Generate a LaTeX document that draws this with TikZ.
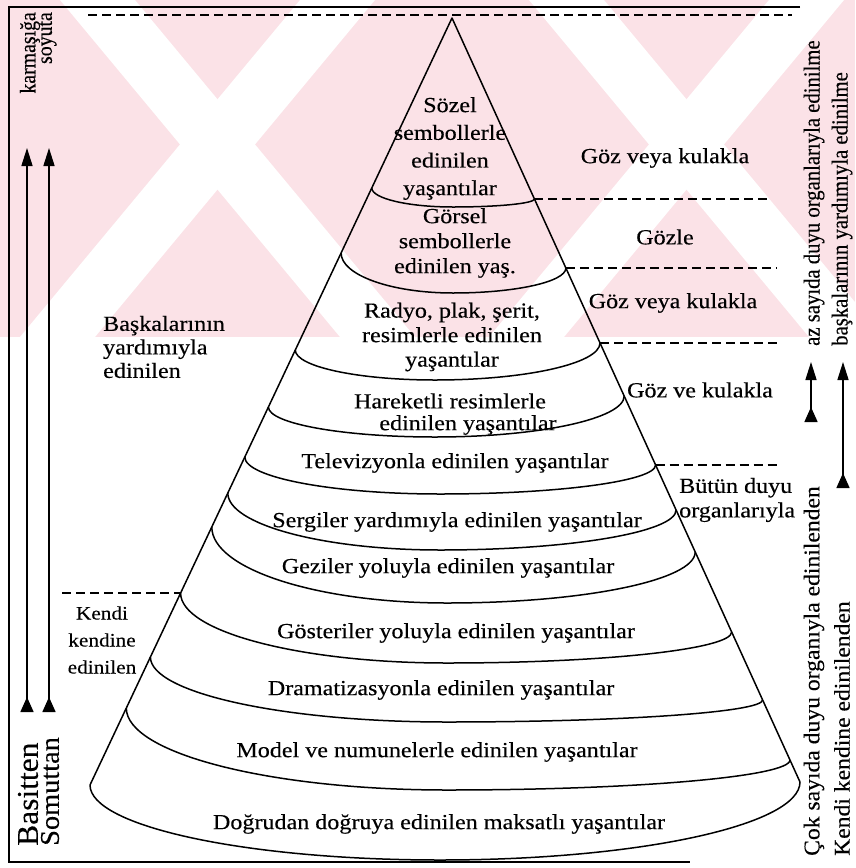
\documentclass[tikz,border=0pt]{standalone}
\usepackage{fontspec}
\setmainfont{Liberation Serif}[FakeStretch=1.12,FakeBold=0.3]
\newfontfamily\vfont{Liberation Serif}[FakeStretch=0.9,FakeBold=0.3]
\newfontfamily\wfont{Liberation Serif}[FakeStretch=1.05,FakeBold=0.3]
\usetikzlibrary{arrows.meta,calc}
\definecolor{wmpink}{RGB}{251,226,231}
\tikzset{
  cone/.style={line width=1.5pt, line join=round},
  frameline/.style={line width=1.6pt},
  dashline/.style={line width=1.2pt, dash pattern=on 9pt off 5pt},
  lbl/.style={inner sep=0pt, font=\fontsize{21.5}{24.5}\selectfont, align=center},
  vlbl/.style={inner sep=0pt, rotate=90},
  uparrow/.style={line width=1.5pt, {Triangle[reversed,length=15pt,width=13pt]}-{Triangle[length=18pt,width=11pt]}},
  wmband/.style={fill=white, draw=none},
}
\newcommand\layercurve[3]{\draw[cone] (#1) .. controls ($(#1)!0.552!(#1|-#2)$) and ($(#2)!0.552!(#1|-#2)$) .. (#2) .. controls ($(#2)!0.552!(#3|-#2)$) and ($(#3)!0.552!(#3|-#2)$) .. (#3);}
\begin{document}
\begin{tikzpicture}[x=1pt,y=-1pt]
\useasboundingbox (0,0) rectangle (855,868);
\fill[white] (0,0) rectangle (855,868);
% watermark
\begin{scope}
\clip (0,0) rectangle (855,337);
\fill[wmpink] (0,0) rectangle (855,337);
\fill[wmband] (60,0) -- (135,0) -- (415,337) -- (340,337) -- cycle;
\fill[wmband] (300,0) -- (375,0) -- (95,337) -- (20,337) -- cycle;
\fill[wmband] (844,0) -- (769,0) -- (489,337) -- (564,337) -- cycle;
\fill[wmband] (604,0) -- (529,0) -- (809,337) -- (884,337) -- cycle;
\end{scope}
% frame
\coordinate (f1) at (800,7); \coordinate (f2) at (9,7);
\coordinate (f3) at (9,862); \coordinate (f4) at (690,862);
\draw[frameline] (f1) -- (f2) -- (f3) -- (f4);
% cone sides
\coordinate (apex) at (452,18);
\coordinate (bl) at (90,785);
\coordinate (br) at (800,782);
\draw[cone] (bl) -- (apex) -- (br);
% layer boundaries
\coordinate (L1) at (371.8,188); \coordinate (C1) at (453,207); \coordinate (R1) at (534.4,199);
\coordinate (L2) at (341.1,253); \coordinate (C2) at (453,293); \coordinate (R2) at (565.9,268);
\coordinate (L3) at (295.3,350); \coordinate (C3) at (435,380); \coordinate (R3) at (600.0,343);
\coordinate (L4) at (268.4,407); \coordinate (C4) at (435,437); \coordinate (R4) at (624.2,396);
\coordinate (L5) at (244.8,457); \coordinate (C5) at (440,494); \coordinate (R5) at (655.6,465);
\coordinate (L6) at (227.8,493); \coordinate (C6) at (440,550); \coordinate (R6) at (676.1,510);
\coordinate (L7) at (211.8,527); \coordinate (C7) at (447,603); \coordinate (R7) at (695.2,552);
\coordinate (L8) at (180.6,593); \coordinate (C8) at (447,663); \coordinate (R8) at (731.7,632);
\coordinate (L9) at (150.4,657); \coordinate (C9) at (447,722); \coordinate (R9) at (762.6,700);
\coordinate (L10) at (126.3,708); \coordinate (C10) at (447,790); \coordinate (R10) at (790.0,760);
\coordinate (Cb) at (440,860);
\layercurve{L1}{C1}{R1}
\layercurve{L2}{C2}{R2}
\layercurve{L3}{C3}{R3}
\layercurve{L4}{C4}{R4}
\layercurve{L5}{C5}{R5}
\layercurve{L6}{C6}{R6}
\layercurve{L7}{C7}{R7}
\layercurve{L8}{C8}{R8}
\layercurve{L9}{C9}{R9}
\layercurve{L10}{C10}{R10}
\layercurve{bl}{Cb}{br}
% dashed lines
\coordinate (t1) at (88,15); \coordinate (t2) at (792,15);
\draw[dashline] (t1) -- (t2);
\coordinate (e1) at (772,199); \coordinate (e2) at (776,268);
\coordinate (e3) at (778,343); \coordinate (e5) at (780,465);
\draw[dashline] (R1) -- (e1);
\draw[dashline] (R2) -- (e2);
\draw[dashline] (R3) -- (e3);
\draw[dashline] (R5) -- (e5);
\coordinate (w8) at (62,593);
\draw[dashline] (w8) -- (L8);
% layer texts
\node[lbl, font=\fontsize{21.5}{27.7}\selectfont] (sozel) at (450,148.5) {Sözel\\sembollerle\\edinilen\\yaşantılar};
\node[lbl, font=\fontsize{21.5}{25}\selectfont] (gorsel) at (455,243) {Görsel\\sembollerle\\edinilen yaş.};
\node[lbl] (radyo) at (452,337) {Radyo, plak, şerit,\\resimlerle edinilen\\yaşantılar};
\node[lbl] (hareket1) at (450,401) {Hareketli resimlerle};
\node[lbl] (hareket2) at (468,425) {edinilen yaşantılar};
\node[lbl] (tv) at (455,463) {Televizyonla edinilen yaşantılar};
\node[lbl] (sergi) at (457,522) {Sergiler yardımıyla edinilen yaşantılar};
\node[lbl] (gezi) at (448,568) {Geziler yoluyla edinilen yaşantılar};
\node[lbl] (goster) at (456,633) {Gösteriler yoluyla edinilen yaşantılar};
\node[lbl] (drama) at (441,690) {Dramatizasyonla edinilen yaşantılar};
\node[lbl] (model) at (437,752) {Model ve numunelerle edinilen yaşantılar};
\node[lbl] (dogru) at (439,824) {Doğrudan doğruya edinilen maksatlı yaşantılar};
% right labels
\node[lbl] (g1) at (665,158) {Göz veya kulakla};
\node[lbl] (g2) at (665,237) {Gözle};
\node[lbl] (g3) at (673,303) {Göz veya kulakla};
\node[lbl] (g4) at (700,390) {Göz ve kulakla};
\node[lbl, align=left, anchor=west] (butun) at (679,500) {Bütün duyu\\organlarıyla};
% left labels
\node[lbl, align=left, anchor=west, font=\fontsize{21.5}{23.5}\selectfont] (baska) at (103,347) {Başkalarının\\yardımıyla\\edinilen};
\node[lbl, font=\fontsize{19}{27}\selectfont] (kendi) at (102,640) {Kendi\\kendine\\edinilen};
% vertical labels left
\node[vlbl, anchor=east, font=\vfont\fontsize{22}{22}\selectfont] (karm) at (30,12) {karmaşığa};
\node[vlbl, anchor=east, font=\vfont\fontsize{22}{22}\selectfont] (soyut) at (48,12) {soyuta};
\node[vlbl, anchor=west, font=\wfont\fontsize{30}{30}\selectfont] (basit) at (28,846) {Basitten};
\node[vlbl, anchor=west, font=\wfont\fontsize{27}{27}\selectfont] (somut) at (50,846) {Somuttan};
% vertical labels right
\node[vlbl, anchor=west, font=\vfont\fontsize{23}{23}\selectfont] (azs) at (814,346) {az sayıda duyu organlarıyla edinilme};
\node[vlbl, anchor=west, font=\vfont\fontsize{23}{23}\selectfont] (bask2) at (842,346) {başkalarının yardımıyla edinilme};
\node[vlbl, anchor=west, font=\wfont\fontsize{22.5}{22.5}\selectfont] (cok) at (814,856) {Çok sayıda duyu organıyla edinilenden};
\node[vlbl, anchor=west, font=\wfont\fontsize{22.5}{22.5}\selectfont] (kk) at (842,856) {Kendi kendine edinilenden};
% arrows
\coordinate (a1s) at (27,712); \coordinate (a1e) at (27,148);
\coordinate (a2s) at (49,712); \coordinate (a2e) at (49,148);
\coordinate (a3s) at (811,422); \coordinate (a3e) at (811,362);
\coordinate (a4s) at (843,488); \coordinate (a4e) at (843,362);
\draw[uparrow] (a1s) -- (a1e);
\draw[uparrow] (a2s) -- (a2e);
\draw[uparrow] (a3s) -- (a3e);
\draw[uparrow] (a4s) -- (a4e);
\end{tikzpicture}
\end{document}
